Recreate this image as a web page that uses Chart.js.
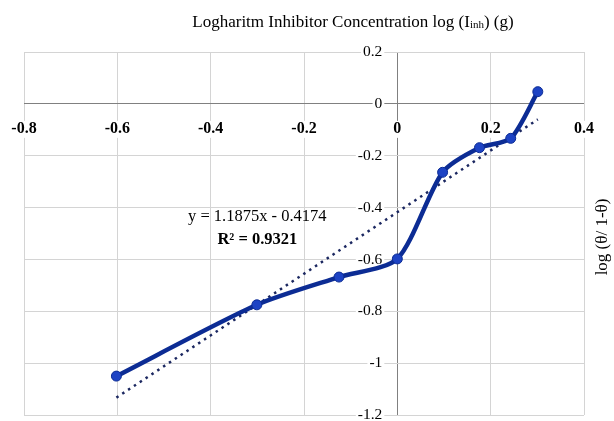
<!DOCTYPE html>
<html>
<head>
<meta charset="utf-8">
<script src="https://cdn.jsdelivr.net/npm/chart.js@4/dist/chart.umd.min.js"></script>
<style>
  html, body { margin: 0; padding: 0; background: #fff; }
  #wrap { width: 614px; height: 421px; }
</style>
</head>
<body>
<div id="wrap"><canvas id="myChart"></canvas></div>
<script>
// data
const logConc = [-0.602, -0.301, -0.125, 0, 0.097, 0.176, 0.243, 0.301];
const logTheta = [-1.05, -0.775, -0.668, -0.598, -0.264, -0.169, -0.133, 0.047];

// linear trendline, two end points
const trendX = [-0.602, 0.301];
const trendY = [-1.133, -0.06];

const eqText = ["y = 1.1875x - 0.4174", "R\u00b2 = 0.9321"];
const eqPos = [[-0.3, -0.435], [-0.3, -0.523]];

const serif = '"Liberation Serif", "Times New Roman", serif';

const mainPts = logConc.map((v, i) => ({x: v, y: logTheta[i]}));
const trendPts = trendX.map((v, i) => ({x: v, y: trendY[i]}));

// excel style: 0, -1, 0.2 (no trailing .0)
const fmt = (v) => String(Number(v.toFixed(1)));

// tick labels sitting on the zero lines + titles
const axisText = {
  id: 'axisText',
  beforeDatasetsDraw(chart) {
    const {ctx, scales: {x, y}} = chart;
    const x0 = x.getPixelForValue(0);
    const y0 = y.getPixelForValue(0);
    ctx.save();
    ctx.textBaseline = 'middle';

    ctx.font = 'bold 16px ' + serif;
    ctx.textAlign = 'center';
    x.ticks.forEach(t => {
      const lbl = fmt(t.value);
      const px = x.getPixelForValue(t.value);
      const w = ctx.measureText(lbl).width;
      ctx.fillStyle = '#fff';
      ctx.fillRect(px - w / 2 - 1, y0 + 17, w + 2, 17);
      ctx.fillStyle = '#000';
      ctx.fillText(lbl, px, y0 + 25);
    });

    ctx.font = '15.5px ' + serif;
    ctx.textAlign = 'right';
    y.ticks.forEach(t => {
      const lbl = fmt(t.value);
      const py = y.getPixelForValue(t.value);
      const w = ctx.measureText(lbl).width;
      ctx.fillStyle = '#fff';
      ctx.fillRect(x0 - 15 - w - 2, py - 8, w + 4, 16);
      ctx.fillStyle = '#000';
      ctx.fillText(lbl, x0 - 15, py);
    });
    ctx.restore();
  },
  afterDraw(chart) {
    const {ctx, scales: {x, y}} = chart;
    ctx.save();
    ctx.fillStyle = '#000';

    // top title with small "inh"
    const a = 'Logharitm Inhibitor Concentration log (I';
    const b = 'inh';
    const c = ') (g)';
    ctx.font = '17px ' + serif;
    const wa = ctx.measureText(a).width;
    const wc = ctx.measureText(c).width;
    ctx.font = '11px ' + serif;
    const wb = ctx.measureText(b).width;
    let sx = 353 - (wa + wb + wc) / 2;
    ctx.textBaseline = 'alphabetic';
    ctx.textAlign = 'left';
    ctx.font = '17px ' + serif;
    ctx.fillText(a, sx, 27);
    ctx.font = '11px ' + serif;
    ctx.fillText(b, sx + wa, 28);
    ctx.font = '17px ' + serif;
    ctx.fillText(c, sx + wa + wb, 27);

    // right side title
    ctx.save();
    ctx.translate(603, 237);
    ctx.rotate(-Math.PI / 2);
    ctx.textAlign = 'center';
    ctx.textBaseline = 'middle';
    ctx.font = '17px ' + serif;
    ctx.fillText('log (\u03b8/ 1-\u03b8)', 0, 0);
    ctx.restore();

    // trendline equation
    ctx.textAlign = 'center';
    ctx.textBaseline = 'middle';
    ctx.font = '16.5px ' + serif;
    ctx.fillText(eqText[0], x.getPixelForValue(eqPos[0][0]), y.getPixelForValue(eqPos[0][1]));
    ctx.font = 'bold 16.5px ' + serif;
    ctx.fillText(eqText[1], x.getPixelForValue(eqPos[1][0]), y.getPixelForValue(eqPos[1][1]));
    ctx.restore();
  }
};

const gridColor = (c) => Math.abs(c.tick.value) < 1e-9 ? '#808080' : '#d4d4d4';

new Chart('myChart', {
  type: 'scatter',
  data: {
    datasets: [
      {
        data: mainPts,
        showLine: true,
        tension: 0.25,
        borderColor: '#0c2c94',
        borderWidth: 4.5,
        pointRadius: 5,
        pointBackgroundColor: '#1d43c4',
        pointBorderColor: '#0c2c94',
        pointBorderWidth: 1,
        order: 1
      },
      {
        data: trendPts,
        showLine: true,
        tension: 0,
        borderColor: '#1b2760',
        borderWidth: 2.5,
        borderDash: [2.5, 4.5],
        pointRadius: 0,
        order: 2
      }
    ]
  },
  options: {
    responsive: true,
    maintainAspectRatio: false,
    animation: false,
    layout: { padding: { left: 24, right: 30, top: 52, bottom: 4 } },
    plugins: {
      legend: { display: false },
      tooltip: { enabled: false }
    },
    scales: {
      x: {
        type: 'linear',
        min: -0.8,
        max: 0.4,
        ticks: { display: false, stepSize: 0.2 },
        grid: { color: gridColor, lineWidth: 1, drawTicks: false },
        border: { display: false }
      },
      y: {
        type: 'linear',
        min: -1.2,
        max: 0.2,
        ticks: { display: false, stepSize: 0.2 },
        grid: { color: gridColor, lineWidth: 1, drawTicks: false },
        border: { display: false }
      }
    }
  },
  plugins: [axisText]
});
</script>
</body>
</html>
